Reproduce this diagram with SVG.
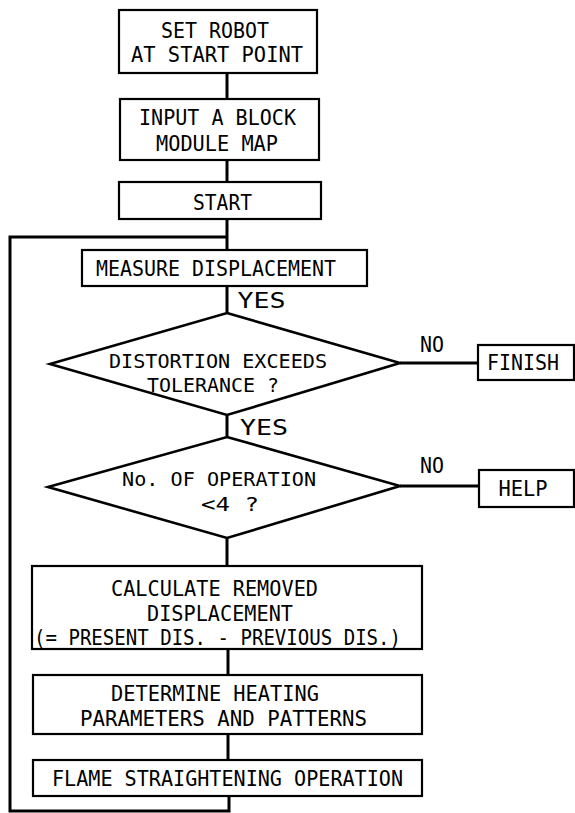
<svg xmlns="http://www.w3.org/2000/svg" width="575" height="813" viewBox="0 0 575 813">
<style>
.bx{fill:#fff;stroke:#000;stroke-width:2.2}
.dm{fill:none;stroke:#000;stroke-width:2.6;stroke-linejoin:miter}
.ln{fill:none;stroke:#000;stroke-width:3}
text{font-family:"DejaVu Sans Mono","Liberation Mono",monospace;font-size:22px;fill:#000;text-anchor:middle}
text.sm{font-size:20px}
</style>
<rect width="575" height="813" fill="#fff"/>
<g id="connectors">
<line class="ln" x1="227" y1="73" x2="227" y2="99"/>
<line class="ln" x1="227" y1="160" x2="227" y2="182"/>
<line class="ln" x1="227" y1="219" x2="227" y2="250"/>
<polyline class="ln" points="227,237 10,237 10,811 229,811 229,796"/>
<line class="ln" x1="227" y1="286" x2="227" y2="313"/>
<line class="ln" x1="227" y1="415" x2="227" y2="437"/>
<line class="ln" x1="400" y1="363" x2="478" y2="363"/>
<line class="ln" x1="400" y1="486" x2="479" y2="486"/>
<line class="ln" x1="227" y1="538" x2="227" y2="566"/>
<line class="ln" x1="228" y1="649" x2="228" y2="675"/>
<line class="ln" x1="228" y1="734" x2="228" y2="760"/>
<text x="261.5" y="308" textLength="48" lengthAdjust="spacingAndGlyphs">YES</text>
<text x="264" y="435" textLength="48" lengthAdjust="spacingAndGlyphs">YES</text>
<text x="432" y="352" textLength="24" lengthAdjust="spacingAndGlyphs">NO</text>
<text x="432" y="473" textLength="24" lengthAdjust="spacingAndGlyphs">NO</text>
</g>
<g id="set-robot">
<rect class="bx" x="119" y="10" width="198" height="63"/>
<text x="215" y="38" textLength="108" lengthAdjust="spacingAndGlyphs">SET ROBOT</text>
<text x="217" y="62" textLength="172" lengthAdjust="spacingAndGlyphs">AT START POINT</text>
</g>
<g id="input-map">
<rect class="bx" x="120" y="99" width="199" height="61"/>
<text x="217.5" y="125" textLength="157" lengthAdjust="spacingAndGlyphs">INPUT A BLOCK</text>
<text x="217" y="151" textLength="122" lengthAdjust="spacingAndGlyphs">MODULE MAP</text>
</g>
<g id="start">
<rect class="bx" x="119" y="182" width="202" height="37"/>
<text x="222.5" y="210" textLength="59" lengthAdjust="spacingAndGlyphs">START</text>
</g>
<g id="measure">
<rect class="bx" x="82" y="250" width="285" height="36"/>
<text x="216" y="276" textLength="240" lengthAdjust="spacingAndGlyphs">MEASURE DISPLACEMENT</text>
</g>
<g id="distortion">
<polygon class="dm" points="227,313 400,363 227,415 50,364"/>
<text class="sm" x="218" y="368" textLength="218" lengthAdjust="spacingAndGlyphs">DISTORTION EXCEEDS</text>
<text class="sm" x="213" y="392" textLength="132" lengthAdjust="spacingAndGlyphs">TOLERANCE ?</text>
</g>
<g id="finish">
<rect class="bx" x="478" y="345" width="96" height="35"/>
<text x="523" y="370" textLength="72" lengthAdjust="spacingAndGlyphs">FINISH</text>
</g>
<g id="operation-count">
<polygon class="dm" points="227,437 400,486 227,538 48,487"/>
<text class="sm" x="219" y="486" textLength="194" lengthAdjust="spacingAndGlyphs">No. OF OPERATION</text>
<text class="sm" x="230" y="511" textLength="58" lengthAdjust="spacingAndGlyphs">&lt;4 ?</text>
</g>
<g id="help">
<rect class="bx" x="479" y="470" width="95" height="37"/>
<text x="523" y="496" textLength="49" lengthAdjust="spacingAndGlyphs">HELP</text>
</g>
<g id="calculate">
<rect class="bx" x="32" y="566" width="390" height="83"/>
<text x="214.5" y="596" textLength="207" lengthAdjust="spacingAndGlyphs">CALCULATE REMOVED</text>
<text x="220" y="621" textLength="146" lengthAdjust="spacingAndGlyphs">DISPLACEMENT</text>
<text x="217.5" y="645" textLength="367" lengthAdjust="spacingAndGlyphs">(= PRESENT DIS. - PREVIOUS DIS.)</text>
</g>
<g id="determine">
<rect class="bx" x="33" y="675" width="389" height="59"/>
<text x="215" y="701" textLength="208" lengthAdjust="spacingAndGlyphs">DETERMINE HEATING</text>
<text x="223.5" y="726" textLength="287" lengthAdjust="spacingAndGlyphs">PARAMETERS AND PATTERNS</text>
</g>
<g id="flame">
<rect class="bx" x="33" y="760" width="389" height="36"/>
<text x="227.5" y="786" textLength="351" lengthAdjust="spacingAndGlyphs">FLAME STRAIGHTENING OPERATION</text>
</g>
</svg>
